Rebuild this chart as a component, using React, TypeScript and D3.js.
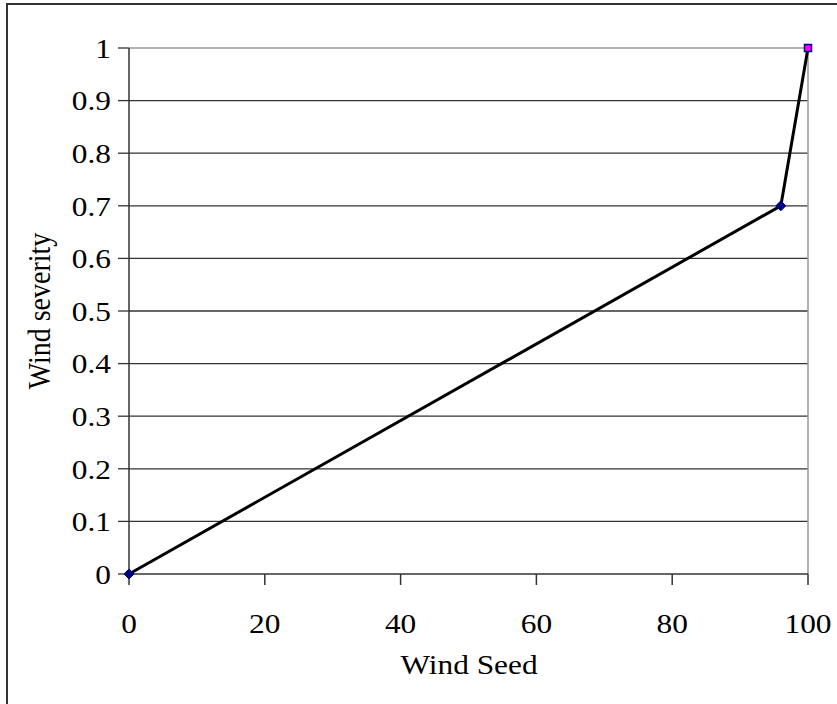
import React from "react";
import * as d3 from "d3";

const seeds = [0, 96, 100];
const severity = [0, 0.7, 1];
const xTicks = [0, 20, 40, 60, 80, 100];
const yTicks = [0, 0.1, 0.2, 0.3, 0.4, 0.5, 0.6, 0.7, 0.8, 0.9, 1];

export default function App() {
  const W = 837, H = 704;
  const x = d3.scaleLinear().domain([0, 100]).range([129, 808]);
  const y = d3.scaleLinear().domain([0, 1]).range([574, 48]);
  const line = d3.line<number>().x((_, i) => x(seeds[i])).y((d) => y(d));
  const font = "'Liberation Serif', 'Times New Roman', serif";
  const fs = 28;
  const sx = 1.12;
  return (
    <svg width={W} height={H} style={{ position: "absolute", left: 0, top: 0, background: "#fff" }}>
      <rect x={7} y={4} width={W} height={H} fill="none" stroke="#333" strokeWidth={2} />
      {yTicks.map((t) => (
        <g key={t}>
          {t > 0 && t < 1 && (
            <line x1={x(0)} x2={x(100)} y1={y(t)} y2={y(t)} stroke="#333" strokeWidth={1.3} />
          )}
          <line x1={118} x2={x(0)} y1={y(t)} y2={y(t)} stroke="#333" strokeWidth={1.3} />
          <text transform={`translate(111,${y(t)}) scale(${sx},1)`} dy="0.35em" textAnchor="end" fontFamily={font} fontSize={fs} fill="#000">
            {String(t)}
          </text>
        </g>
      ))}
      <line x1={x(0)} x2={x(100)} y1={y(1)} y2={y(1)} stroke="#999" strokeWidth={1.5} />
      <line x1={x(100)} x2={x(100)} y1={y(1)} y2={y(0)} stroke="#999" strokeWidth={1.5} />
      <line x1={x(0)} x2={x(0)} y1={y(1)} y2={y(0)} stroke="#333" strokeWidth={1.5} />
      <line x1={x(0)} x2={x(100)} y1={y(0)} y2={y(0)} stroke="#333" strokeWidth={1.5} />
      {xTicks.map((t) => (
        <g key={t}>
          <line x1={x(t)} x2={x(t)} y1={y(0)} y2={585} stroke="#333" strokeWidth={1.5} />
          <text transform={`translate(${x(t)},623) scale(${sx},1)`} dy="0.35em" textAnchor="middle" fontFamily={font} fontSize={fs} fill="#000">
            {t}
          </text>
        </g>
      ))}
      <path d={line(severity) || ""} fill="none" stroke="#000" strokeWidth={3} />
      {seeds.slice(0, 2).map((s, i) => {
        const cx = x(s), cy = y(severity[i]);
        return (
          <path key={i} d={`M${cx},${cy - 5}L${cx + 5},${cy}L${cx},${cy + 5}L${cx - 5},${cy}Z`} fill="#000080" stroke="#000080" strokeWidth={1} />
        );
      })}
      <rect x={x(seeds[2]) - 3.5} y={y(severity[2]) - 3.5} width={7} height={7} fill="#ff00ff" stroke="#000080" strokeWidth={1.5} />
      <text transform={`translate(469,664) scale(${sx},1)`} dy="0.35em" textAnchor="middle" fontFamily={font} fontSize={fs} fill="#000">
        Wind Seed
      </text>
      <text transform={`translate(39,311) scale(${sx},1) rotate(-90)`} dy="0.35em" textAnchor="middle" fontFamily={font} fontSize={fs} fill="#000">
        Wind severity
      </text>
    </svg>
  );
}
